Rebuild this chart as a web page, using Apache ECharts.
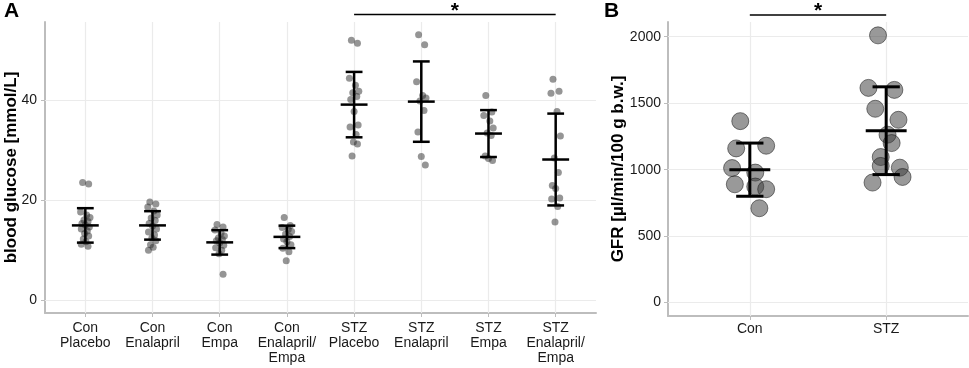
<!DOCTYPE html>
<html>
<head>
<meta charset="utf-8">
<script src="https://cdn.jsdelivr.net/npm/echarts@6.0.0/dist/echarts.min.js"></script>
<style>
html, body { margin: 0; padding: 0; background: #fff; }
#chart { width: 969px; height: 368px; }
</style>
</head>
<body>
<div id="chart"></div>
<script>
// panel A - blood glucose [mmol/L]
const CAT_A = ['Con\nPlacebo', 'Con\nEnalapril', 'Con\nEmpa', 'Con\nEnalapril/\nEmpa',
    'STZ\nPlacebo', 'STZ\nEnalapril', 'STZ\nEmpa', 'STZ\nEnalapril/\nEmpa'];
const GLU_CON_PLACEBO = [23.5, 23.2, 17.6, 17.0, 16.5, 16.0, 15.7, 15.3, 15.0, 14.6, 14.2, 13.8, 13.3, 12.8, 12.2, 11.6, 11.1, 10.7];
const GLU_CON_ENAL = [19.6, 19.2, 18.6, 17.8, 17.0, 16.4, 15.9, 15.3, 14.8, 14.2, 13.6, 13.0, 12.4, 11.8, 11.0, 10.5, 9.9];
const GLU_CON_EMPA = [15.1, 14.6, 14.0, 13.4, 12.8, 12.4, 12.1, 11.8, 11.4, 10.9, 10.4, 9.9, 9.2, 5.1];
const GLU_CON_ENAL_EMPA = [16.5, 14.9, 14.5, 14.1, 13.7, 13.2, 12.7, 12.2, 11.6, 11.0, 10.3, 9.6, 7.8];
const GLU_STZ_PLACEBO = [52.0, 51.4, 44.4, 43.0, 41.8, 41.5, 40.7, 40.1, 37.7, 35.0, 34.6, 33.1, 31.6, 31.2, 28.8];
const GLU_STZ_ENAL = [53.1, 51.1, 43.7, 40.9, 40.4, 39.8, 37.9, 33.6, 28.7, 27.0];
const GLU_STZ_EMPA = [40.9, 37.6, 36.9, 35.8, 34.4, 33.4, 32.9, 28.8, 28.3, 27.9];
const GLU_STZ_ENAL_EMPA = [44.2, 41.8, 41.4, 37.7, 32.8, 28.4, 25.5, 22.9, 22.3, 20.4, 20.2, 18.7, 15.6];
const MEAN_A = [14.9, 14.9, 11.5, 12.6, 39.1, 39.7, 33.3, 28.1];
const SD_A = [3.45, 2.85, 2.45, 2.25, 6.55, 8.05, 4.7, 9.2];
const TICKS_A = [0, 20, 40];

// panel B - GFR [µl/min/100 g b.w.]
const CAT_B = ['Con', 'STZ'];
const GFR_CON = [1365, 1160, 1180, 1012, 978, 890, 873, 853, 710];
const GFR_STZ = [2010, 1615, 1600, 1458, 1375, 1263, 1200, 1095, 1028, 1015, 945, 903];
const MEAN_B = [1000, 1293];
const SD_B = [200, 330];
const TICKS_B = [0, 500, 1000, 1500, 2000];

// horizontal spread of the dots (category units)
const JIT_A = [-0.04, 0.05, -0.07, 0.02, 0.07, -0.02, 0.04, -0.05, 0, 0.06, -0.06, 0.03, -0.01, 0.05, -0.03, 0.01, -0.06, 0.04];
const JIT_CON = [-0.07, -0.1, 0.12, -0.13, 0.04, -0.11, 0.04, 0.12, 0.07];
const JIT_STZ = [-0.06, -0.13, 0.06, -0.08, 0.09, 0.01, 0.04, -0.04, -0.04, 0.1, 0.12, -0.1];

const FONT = 'Liberation Sans, Arial, sans-serif';
const AXIS_GREY = '#bdbdbd';
const GRID_GREY = '#ebebeb';

const groupsA = [GLU_CON_PLACEBO, GLU_CON_ENAL, GLU_CON_EMPA, GLU_CON_ENAL_EMPA,
    GLU_STZ_PLACEBO, GLU_STZ_ENAL, GLU_STZ_EMPA, GLU_STZ_ENAL_EMPA];
let pointsA = [];
groupsA.forEach(function (vals, i) {
    vals.forEach(function (v, j) {
        pointsA.push([i + JIT_A[j % JIT_A.length], v]);
    });
});
let pointsB = [];
GFR_CON.forEach(function (v, j) { pointsB.push([0 + JIT_CON[j], v]); });
GFR_STZ.forEach(function (v, j) { pointsB.push([1 + JIT_STZ[j], v]); });

function errorBars(capHalf, meanHalf, width) {
    return function (params, api) {
        var x = api.value(0), m = api.value(1), s = api.value(2);
        var unit = api.size([1, 0])[0];
        var top = api.coord([x, m + s]);
        var bot = api.coord([x, m - s]);
        var mid = api.coord([x, m]);
        var st = { stroke: '#000', lineWidth: width };
        function seg(x1, y1, x2, y2) {
            return { type: 'line', shape: { x1: x1, y1: y1, x2: x2, y2: y2 }, style: st };
        }
        return {
            type: 'group',
            children: [
                seg(top[0], top[1], bot[0], bot[1]),
                seg(top[0] - capHalf * unit, top[1], top[0] + capHalf * unit, top[1]),
                seg(bot[0] - capHalf * unit, bot[1], bot[0] + capHalf * unit, bot[1]),
                seg(mid[0] - meanHalf * unit, mid[1], mid[0] + meanHalf * unit, mid[1])
            ]
        };
    };
}

function gridLines(xs, ys) {
    return {
        silent: true,
        symbol: 'none',
        z: 1,
        label: { show: false },
        lineStyle: { color: GRID_GREY, width: 1.2, type: 'solid' },
        emphasis: { disabled: true },
        data: xs.map(function (v) { return { xAxis: v }; })
            .concat(ys.map(function (v) { return { yAxis: v }; }))
    };
}

function xAxisCfg(gridIndex, cats, margin) {
    var idx = cats.map(function (c, i) { return i; });
    return {
        type: 'value', gridIndex: gridIndex, min: -0.6, max: cats.length - 0.4,
        axisLine: { show: true, onZero: false, lineStyle: { color: AXIS_GREY, width: 2 } },
        axisTick: { show: true, customValues: idx, length: 4, lineStyle: { color: AXIS_GREY, width: 1 } },
        axisLabel: {
            customValues: idx, margin: margin, color: '#1a1a1a', fontSize: 14, fontFamily: FONT,
            lineHeight: 15, formatter: function (v) { return cats[Math.round(v)]; }
        },
        splitLine: { show: false }
    };
}

function yAxisCfg(gridIndex, min, max, ticks, name, gap, margin) {
    return {
        type: 'value', gridIndex: gridIndex, min: min, max: max,
        name: name, nameLocation: 'middle', nameGap: gap, nameMoveOverlap: false,
        nameTextStyle: { fontWeight: 'bold', fontSize: 17, fontFamily: FONT, color: '#000' },
        axisLine: { show: true, onZero: false, lineStyle: { color: AXIS_GREY, width: 2 } },
        axisTick: { show: true, customValues: ticks, length: 4, lineStyle: { color: AXIS_GREY, width: 1 } },
        axisLabel: {
            customValues: ticks, margin: margin, color: '#1a1a1a', fontSize: 14, fontFamily: FONT,
            formatter: function (v) { return String(v); }
        },
        splitLine: { show: false }
    };
}

var chart = echarts.init(document.getElementById('chart'), null, { renderer: 'canvas' });
chart.setOption({
    animation: false,
    backgroundColor: '#fff',
    grid: [
        { left: 45, right: 373, top: 22, bottom: 55, containLabel: false, outerBoundsMode: 'none' },
        { left: 668, right: 1, top: 22, bottom: 52, containLabel: false, outerBoundsMode: 'none' }
    ],
    xAxis: [xAxisCfg(0, CAT_A, 8), xAxisCfg(1, CAT_B, 6)],
    yAxis: [
        yAxisCfg(0, -2.65, 55.65, TICKS_A, 'blood glucose [mmol/L]', 25, 8),
        yAxisCfg(1, -100.5, 2110.5, TICKS_B, 'GFR [µl/min/100 g b.w.]', 41, 7)
    ],
    series: [
        {
            type: 'scatter', xAxisIndex: 0, yAxisIndex: 0, z: 3,
            symbolSize: 7, data: pointsA,
            itemStyle: { color: 'rgba(40,40,40,0.62)' },
            markLine: gridLines(CAT_A.map(function (c, i) { return i; }), TICKS_A)
        },
        {
            type: 'custom', xAxisIndex: 0, yAxisIndex: 0, z: 4,
            renderItem: errorBars(0.125, 0.2, 2.5),
            data: MEAN_A.map(function (m, i) { return [i, m, SD_A[i]]; })
        },
        {
            type: 'scatter', xAxisIndex: 1, yAxisIndex: 1, z: 3,
            symbolSize: 17, data: pointsB,
            itemStyle: { color: 'rgba(60,60,60,0.65)', borderColor: 'rgba(30,30,30,0.7)', borderWidth: 1 },
            markLine: gridLines(CAT_B.map(function (c, i) { return i; }), TICKS_B)
        },
        {
            type: 'custom', xAxisIndex: 1, yAxisIndex: 1, z: 4,
            renderItem: errorBars(0.1, 0.15, 3),
            data: MEAN_B.map(function (m, i) { return [i, m, SD_B[i]]; })
        }
    ]
});

// significance brackets and panel letters, placed through the axes
function px(grid, x) {
    return chart.convertToPixel({ xAxisIndex: grid, yAxisIndex: grid }, [x, 0])[0];
}
function bracket(grid, from, to, y) {
    var a = px(grid, from), b = px(grid, to);
    return [
        { type: 'line', shape: { x1: a, y1: y, x2: b, y2: y }, style: { stroke: '#000', lineWidth: 1.5 } },
        { type: 'text', x: (a + b) / 2, y: 1, style: { text: '*', fill: '#000', font: 'bold 21px ' + FONT, align: 'center', verticalAlign: 'top' } }
    ];
}
chart.setOption({
    graphic: [].concat(
        bracket(0, 4, 7, 14.5),
        bracket(1, 0, 1, 15),
        [
            { type: 'text', left: 4, top: 1, style: { text: 'A', fill: '#000', font: 'bold 21px ' + FONT } },
            { type: 'text', left: 604, top: 1, style: { text: 'B', fill: '#000', font: 'bold 21px ' + FONT } }
        ]
    )
});
</script>
</body>
</html>
